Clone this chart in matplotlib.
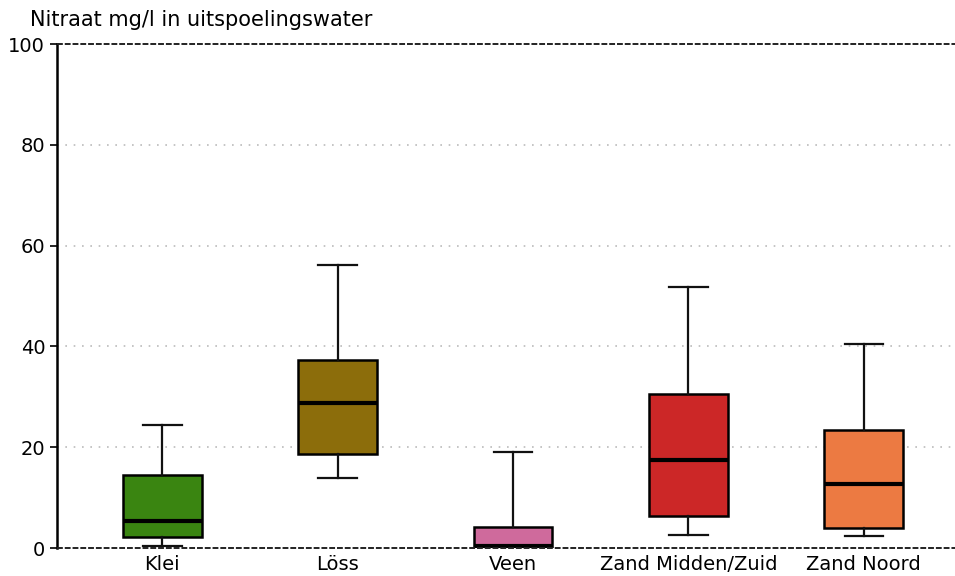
import matplotlib.pyplot as plt
import numpy as np

categories = ['Klei', 'Löss', 'Veen', 'Zand Midden/Zuid', 'Zand Noord']
whislo = [0.4, 13.9, 0.0, 2.6, 2.4]
q1 = [2.2, 18.7, 0.2, 6.3, 4.0]
median = [5.4, 28.8, 0.4, 17.5, 12.7]
q3 = [14.5, 37.3, 4.2, 30.6, 23.4]
whishi = [24.4, 56.2, 19.0, 51.8, 40.5]
colors = ['#3a8511', '#8c6d0b', '#cf6a9c', '#cc2727', '#ec7a42']

stats = []
for i, c in enumerate(categories):
    stats.append({'label': c, 'whislo': whislo[i], 'q1': q1[i], 'med': median[i],
                  'q3': q3[i], 'whishi': whishi[i], 'fliers': []})

fig = plt.figure(figsize=(9.55, 5.76), dpi=100)
ax = fig.add_axes([0.0597, 0.0486, 0.9403, 0.875])

bp = ax.bxp(stats, positions=np.arange(len(categories)), widths=0.45, patch_artist=True,
            showfliers=False,
            boxprops=dict(linewidth=1.8, edgecolor='black'),
            medianprops=dict(linewidth=3.0, color='black'),
            whiskerprops=dict(linewidth=1.6, color='#111111'),
            capprops=dict(linewidth=1.6, color='#111111'),
            capwidths=0.22)
for patch, col in zip(bp['boxes'], colors):
    patch.set_facecolor(col)

ax.set_ylim(0, 100)
ax.set_xlim(-0.6, 4.52)
ax.set_yticks([0, 20, 40, 60, 80, 100])
for y in [20, 40, 60, 80]:
    ax.axhline(y, color='#bbbbbb', linestyle=(0, (1, 4)), linewidth=1.2, zorder=0)
for y in [0, 100]:
    ax.axhline(y, color='#222222', linestyle=(0, (3, 1)), linewidth=1.4, zorder=3, clip_on=False)

for s in ['top', 'right', 'bottom']:
    ax.spines[s].set_visible(False)
ax.spines['left'].set_linewidth(1.8)
ax.tick_params(axis='x', length=0, labelsize=14, pad=5)
ax.tick_params(axis='y', labelsize=14, length=5, width=1.2)

fig.text(0.031, 0.965, 'Nitraat mg/l in uitspoelingswater', fontsize=15, va='center', ha='left')

fig.savefig('out.png', dpi=100)
